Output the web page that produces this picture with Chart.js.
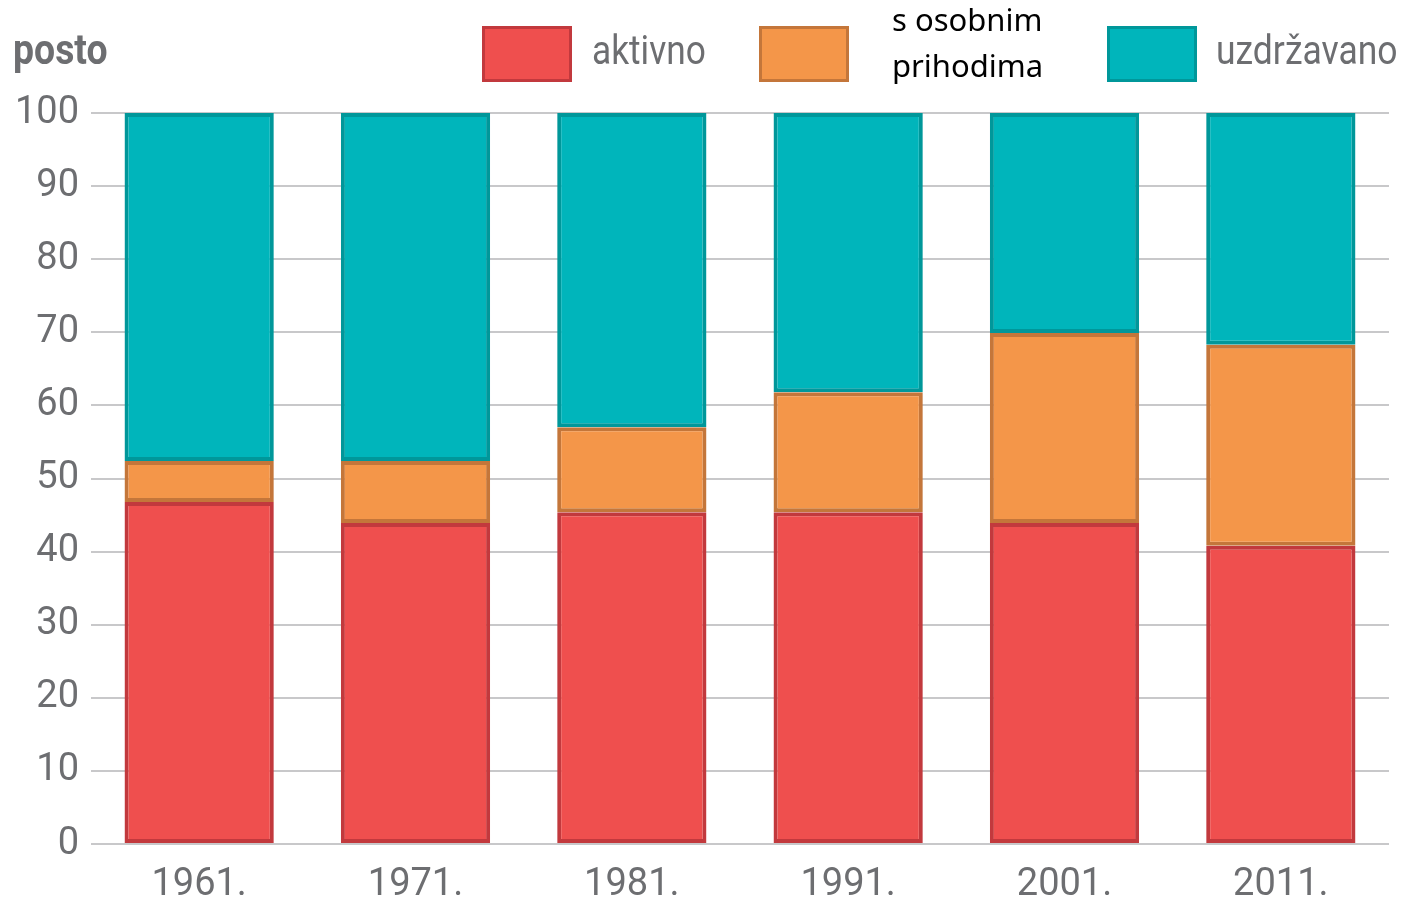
<!DOCTYPE html>
<html>
<head>
<meta charset="utf-8">
<script src="https://cdn.jsdelivr.net/npm/chart.js@4"></script>
<style>
  html, body { margin: 0; padding: 0; background: #fff; }
  #wrap { width: 1407px; height: 900px; position: relative; }
</style>
</head>
<body>
<div id="wrap"><canvas id="stupci"></canvas></div>
<script>
var godine = ['1961.', '1971.', '1981.', '1991.', '2001.', '2011.'];
var aktivno = [46.8, 43.9, 45.4, 45.4, 43.9, 40.8];
var osobniPrihodi = [5.6, 8.5, 11.6, 16.4, 26.0, 27.5];
var uzdrzavano = [47.6, 47.6, 43.0, 38.2, 30.1, 31.7];
var yTicks = [0, 10, 20, 30, 40, 50, 60, 70, 80, 90, 100];

var sivo = '#6d6e71';

// narrow text: the original uses a condensed face we don't have
function uskiTekst(ctx, txt, x, y, sx) {
  ctx.save();
  ctx.translate(x, y);
  ctx.scale(sx, 1);
  ctx.fillText(txt, 0, 0);
  ctx.restore();
}

// legend + "posto" drawn by hand, the legend layout is odd
var legendaPlugin = {
  id: 'legenda',
  afterDraw: function(chart) {
    var ctx = chart.ctx;
    ctx.save();
    ctx.fillStyle = sivo;
    ctx.font = 'bold 42px Roboto';
    ctx.textBaseline = 'middle';
    ctx.textAlign = 'left';
    uskiTekst(ctx, 'posto', 13, 53, 0.89);

    var boxes = [
      { x: 482, ds: 0, tx: 592, lines: ['aktivno'], font: '41px Roboto', color: sivo, sx: 0.86 },
      { x: 759, ds: 1, tx: 892, lines: ['s osobnim', 'prihodima'], font: '31px "Noto Sans"', color: '#000', sx: 1 },
      { x: 1107, ds: 2, tx: 1216, lines: ['uzdržavano'], font: '41px Roboto', color: sivo, sx: 0.865 }
    ];
    boxes.forEach(function(b) {
      var d = chart.data.datasets[b.ds];
      ctx.fillStyle = d.backgroundColor;
      ctx.fillRect(b.x, 26, 90, 56);
      ctx.strokeStyle = d.borderColor;
      ctx.lineWidth = 3;
      ctx.strokeRect(b.x + 1.5, 27.5, 87, 53);
      ctx.fillStyle = b.color;
      ctx.font = b.font;
      if (b.lines.length === 1) {
        uskiTekst(ctx, b.lines[0], b.tx, 54, b.sx);
      } else {
        ctx.fillText(b.lines[0], b.tx, 22);
        ctx.fillText(b.lines[1], b.tx, 68);
      }
    });
    ctx.restore();
  }
};

var ctx = document.getElementById('stupci').getContext('2d');
var grafikon = new Chart(ctx, {
  type: 'bar',
  data: {
    labels: godine,
    datasets: [{
      label: 'aktivno',
      data: aktivno,
      backgroundColor: '#ef4f4e',
      borderColor: '#c2393d',
      borderWidth: 4,
      borderSkipped: false
    }, {
      label: 's osobnim prihodima',
      data: osobniPrihodi,
      backgroundColor: '#f49649',
      borderColor: '#c4763a',
      borderWidth: 4,
      borderSkipped: false
    }, {
      label: 'uzdržavano',
      data: uzdrzavano,
      backgroundColor: '#00b5bb',
      borderColor: '#00979a',
      borderWidth: 4,
      borderSkipped: false
    }]
  },
  options: {
    responsive: true,
    maintainAspectRatio: false,
    animation: false,
    categoryPercentage: 1,
    barPercentage: 0.69,
    layout: { padding: { top: 113, right: 18, left: 0, bottom: 0 } },
    plugins: {
      legend: { display: false },
      tooltip: { enabled: false }
    },
    scales: {
      x: {
        stacked: true,
        grid: { display: false },
        border: { display: false },
        ticks: { color: sivo, font: { family: 'Roboto', size: 38 }, padding: 11 },
        afterFit: function(s) { s.height = 56; }
      },
      y: {
        stacked: true,
        min: 0,
        max: 100,
        afterBuildTicks: function(s) { s.ticks = yTicks.map(function(v) { return { value: v }; }); },
        grid: { color: '#c8c8ca', lineWidth: 2, drawTicks: false },
        border: { display: false },
        ticks: { color: sivo, font: { family: 'Roboto', size: 38 }, padding: 12 },
        afterFit: function(s) { s.width = 91; }
      }
    }
  },
  plugins: [legendaPlugin]
});
</script>
</body>
</html>
